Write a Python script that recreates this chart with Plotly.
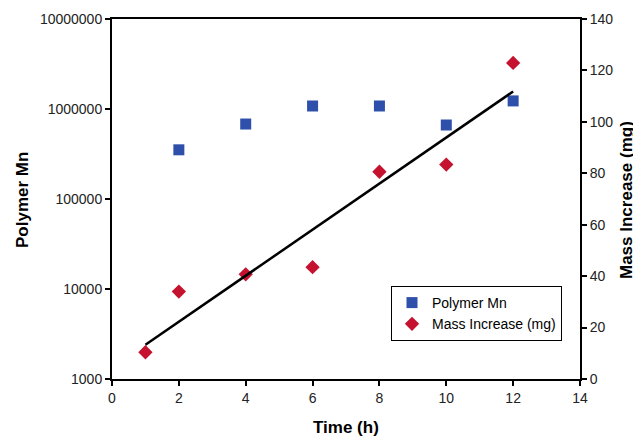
import numpy as np
import plotly.graph_objects as go

# Data
time_mn = [2, 4, 6, 8, 10, 12]
polymer_mn = [352000, 681000, 1080000, 1080000, 664000, 1230000]

time_mass = [1, 2, 4, 6, 8, 10, 12]
mass_increase = [10.4, 34.0, 40.7, 43.5, 80.6, 83.4, 122.9]

left_ticks = [1000, 10000, 100000, 1000000, 10000000]
left_ticktext = ["1000", "10000", "100000", "1000000", "10000000"]

# Linear trendline fit of mass increase vs time
slope, intercept = np.polyfit(time_mass, mass_increase, 1)
trend_x = [min(time_mass), max(time_mass)]
trend_y = [slope * x + intercept for x in trend_x]

FONT = "Liberation Sans, Arial, sans-serif"

# The page body has an 8px default margin, so the figure is offset by 8px.
OFF = 8
W, H = 641 - OFF, 437 - OFF
PL, PT, PW, PH = 112 - OFF, 19 - OFF, 468, 360
PR = W - PL - PW
PB = H - PT - PH

fig = go.Figure()
fig.add_trace(go.Scatter(
    x=time_mn, y=polymer_mn, mode="markers", name="Polymer Mn",
    marker=dict(symbol="square", size=11, color="#2E50AA"),
    yaxis="y"))
fig.add_trace(go.Scatter(
    x=time_mass, y=mass_increase, mode="markers", name="Mass Increase (mg)",
    marker=dict(symbol="diamond", size=11, color="#C4122F"),
    yaxis="y2"))
fig.add_trace(go.Scatter(
    x=trend_x, y=trend_y, mode="lines", showlegend=False,
    line=dict(color="black", width=2.5), yaxis="y2"))

axis_common = dict(showgrid=False, zeroline=False, showline=True, linecolor="black",
                   linewidth=2, ticks="outside", tickcolor="black", ticklen=5, tickwidth=2,
                   automargin=False,
                   tickfont=dict(family=FONT, size=14, color="#222"))

title_font = dict(family=FONT, size=17, color="black")

def px_to_paper_x(px):
    return (px - OFF - PL) / PW
def px_to_paper_y(py):
    return (PT + PH - (py - OFF)) / PH

fig.update_layout(
    width=W, height=H,
    margin=dict(l=PL, r=PR, t=PT, b=PB),
    paper_bgcolor="white", plot_bgcolor="white",
    font=dict(family=FONT, color="black"),
    xaxis=dict(range=[0, 14], tickvals=list(range(0, 15, 2)), mirror=True, **axis_common),
    yaxis=dict(type="log", range=[3, 7], tickvals=left_ticks, ticktext=left_ticktext,
               **axis_common),
    yaxis2=dict(overlaying="y", side="right", range=[0, 140], tickvals=list(range(0, 141, 20)),
                **axis_common),
    legend=dict(x=px_to_paper_x(391), y=px_to_paper_y(286), xanchor="left", yanchor="top",
                bgcolor="white", bordercolor="black", borderwidth=1,
                font=dict(family=FONT, size=14, color="black"),
                itemwidth=30, tracegroupgap=0),
    showlegend=True,
)

fig.add_annotation(text="<b>Time (h)</b>", xref="paper", yref="paper",
                   x=px_to_paper_x(346), y=px_to_paper_y(427), showarrow=False,
                   font=title_font, xanchor="center", yanchor="middle")
fig.add_annotation(text="<b>Polymer Mn</b>", xref="paper", yref="paper",
                   x=px_to_paper_x(22), y=px_to_paper_y(200), showarrow=False,
                   font=title_font, textangle=-90, xanchor="center", yanchor="middle")
fig.add_annotation(text="<b>Mass Increase (mg)</b>", xref="paper", yref="paper",
                   x=px_to_paper_x(626), y=px_to_paper_y(200), showarrow=False,
                   font=title_font, textangle=-90, xanchor="center", yanchor="middle")

fig.write_html("out.html")
